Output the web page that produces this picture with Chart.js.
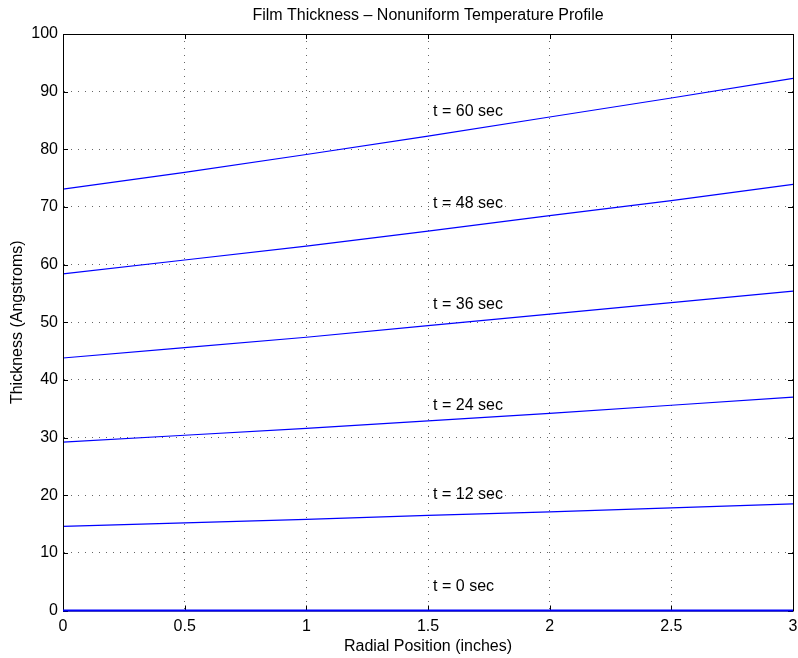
<!DOCTYPE html>
<html>
<head>
<meta charset="utf-8">
<title>Film Thickness</title>
<script src="https://cdn.jsdelivr.net/npm/chart.js@4.4.0/dist/chart.umd.min.js"></script>
<style>
  html, body { margin: 0; padding: 0; background: #fff; }
  #wrap { width: 798px; height: 658px; }
</style>
</head>
<body>
<div id="wrap"><canvas id="chart" width="798" height="658"></canvas></div>
<script>
// Radial position samples (inches)
const radialPos = [0, 0.5, 1, 1.5, 2, 2.5, 3];

// Film thickness (Angstroms) at each time step
const thick0  = [0, 0, 0, 0, 0, 0, 0];
const thick12 = [14.6, 15.2, 15.8, 16.5, 17.1, 17.8, 18.5];
const thick24 = [29.2, 30.4, 31.6, 32.9, 34.2, 35.6, 37.0];
const thick36 = [43.8, 45.6, 47.4, 49.4, 51.4, 53.4, 55.4];
const thick48 = [58.4, 60.8, 63.2, 65.8, 68.5, 71.1, 73.9];
const thick60 = [73.1, 76.0, 79.1, 82.3, 85.6, 88.9, 92.3];

const seriesNames = ["t = 0 sec", "t = 12 sec", "t = 24 sec", "t = 36 sec", "t = 48 sec", "t = 60 sec"];
const seriesValues = [thick0, thick12, thick24, thick36, thick48, thick60];

// text labels placed in data coordinates, like MATLAB text()
const labelX = 1.521;
const labelY = [4.2, 20.1, 35.5, 53.1, 70.6, 86.6];

const xTicks = [0, 0.5, 1, 1.5, 2, 2.5, 3];
const yTicks = [0, 10, 20, 30, 40, 50, 60, 70, 80, 90, 100];

const FONT = "'Liberation Sans', Arial, Helvetica, sans-serif";

const datasets = seriesValues.map((vals, i) => ({
  label: seriesNames[i],
  data: vals.map((v, j) => ({ x: radialPos[j], y: v })),
  borderColor: "#0000ff",
  borderWidth: 1.2,
  pointRadius: 0,
  fill: false,
  tension: 0,
  clip: false
}));

// box, inner ticks, title and curve labels
const matlabAxes = {
  id: "matlabAxes",
  afterDatasetsDraw(chart) {
    const { ctx, chartArea: a, scales } = chart;
    const xs = scales.x, ys = scales.y;
    ctx.save();
    ctx.strokeStyle = "#000";
    ctx.lineWidth = 1;
    ctx.setLineDash([]);
    ctx.strokeRect(a.left + 0.5, a.top + 0.5, a.right - a.left, a.bottom - a.top);
    ctx.beginPath();
    const tl = 5;
    xTicks.forEach(t => {
      const px = Math.round(xs.getPixelForValue(t)) + 0.5;
      ctx.moveTo(px, a.bottom); ctx.lineTo(px, a.bottom - tl);
      ctx.moveTo(px, a.top); ctx.lineTo(px, a.top + tl);
    });
    yTicks.forEach(t => {
      const py = Math.round(ys.getPixelForValue(t)) + 0.5;
      ctx.moveTo(a.left, py); ctx.lineTo(a.left + tl, py);
      ctx.moveTo(a.right, py); ctx.lineTo(a.right - tl, py);
    });
    ctx.stroke();

    // redraw zero line on top of the box
    ctx.strokeStyle = "#0000ff";
    ctx.lineWidth = 2;
    ctx.beginPath();
    ctx.moveTo(xs.getPixelForValue(radialPos[0]), ys.getPixelForValue(thick0[0]));
    ctx.lineTo(xs.getPixelForValue(radialPos[radialPos.length - 1]), ys.getPixelForValue(thick0[thick0.length - 1]));
    ctx.stroke();

    ctx.fillStyle = "#000";
    ctx.font = "16px " + FONT;
    ctx.textAlign = "left";
    ctx.textBaseline = "middle";
    seriesNames.forEach((name, i) => {
      ctx.fillText(name, xs.getPixelForValue(labelX), ys.getPixelForValue(labelY[i]));
    });

    ctx.textAlign = "center";
    ctx.fillText("Film Thickness \u2013 Nonuniform Temperature Profile", (a.left + a.right) / 2, 16);
    ctx.restore();
  }
};

new Chart(document.getElementById("chart"), {
  type: "line",
  data: { datasets: datasets },
  options: {
    responsive: false,
    animation: false,
    layout: { padding: { top: 34, right: 5, left: 0, bottom: 0 } },
    plugins: {
      legend: { display: false },
      title: { display: false },
      tooltip: { enabled: false }
    },
    scales: {
      x: {
        type: "linear",
        min: 0,
        max: 3,
        afterBuildTicks: s => { s.ticks = xTicks.map(v => ({ value: v })); },
        afterFit: s => { s.height = 47.5; s.paddingLeft = 0; s.paddingRight = 0; },
        ticks: {
          color: "#000",
          padding: 6,
          maxRotation: 0,
          font: { family: FONT, size: 16 },
          callback: v => String(v)
        },
        grid: {
          color: "#666",
          lineWidth: 1,
          drawTicks: false
        },
        border: { display: true, color: "#000", dash: [1, 6] },
        title: {
          display: true,
          text: "Radial Position (inches)",
          color: "#000",
          font: { family: FONT, size: 16 },
          padding: { top: 0, bottom: 2 }
        }
      },
      y: {
        type: "linear",
        min: 0,
        max: 100,
        afterBuildTicks: s => { s.ticks = yTicks.map(v => ({ value: v })); },
        afterFit: s => { s.width = 63; },
        ticks: {
          color: "#000",
          padding: 5,
          font: { family: FONT, size: 16 }
        },
        grid: {
          color: "#666",
          lineWidth: 1,
          drawTicks: false
        },
        border: { display: true, color: "#000", dash: [1, 6] },
        title: {
          display: true,
          text: "Thickness (Angstroms)",
          color: "#000",
          font: { family: FONT, size: 16 },
          padding: { top: 8, bottom: 0 }
        }
      }
    }
  },
  plugins: [matlabAxes]
});
</script>
</body>
</html>
